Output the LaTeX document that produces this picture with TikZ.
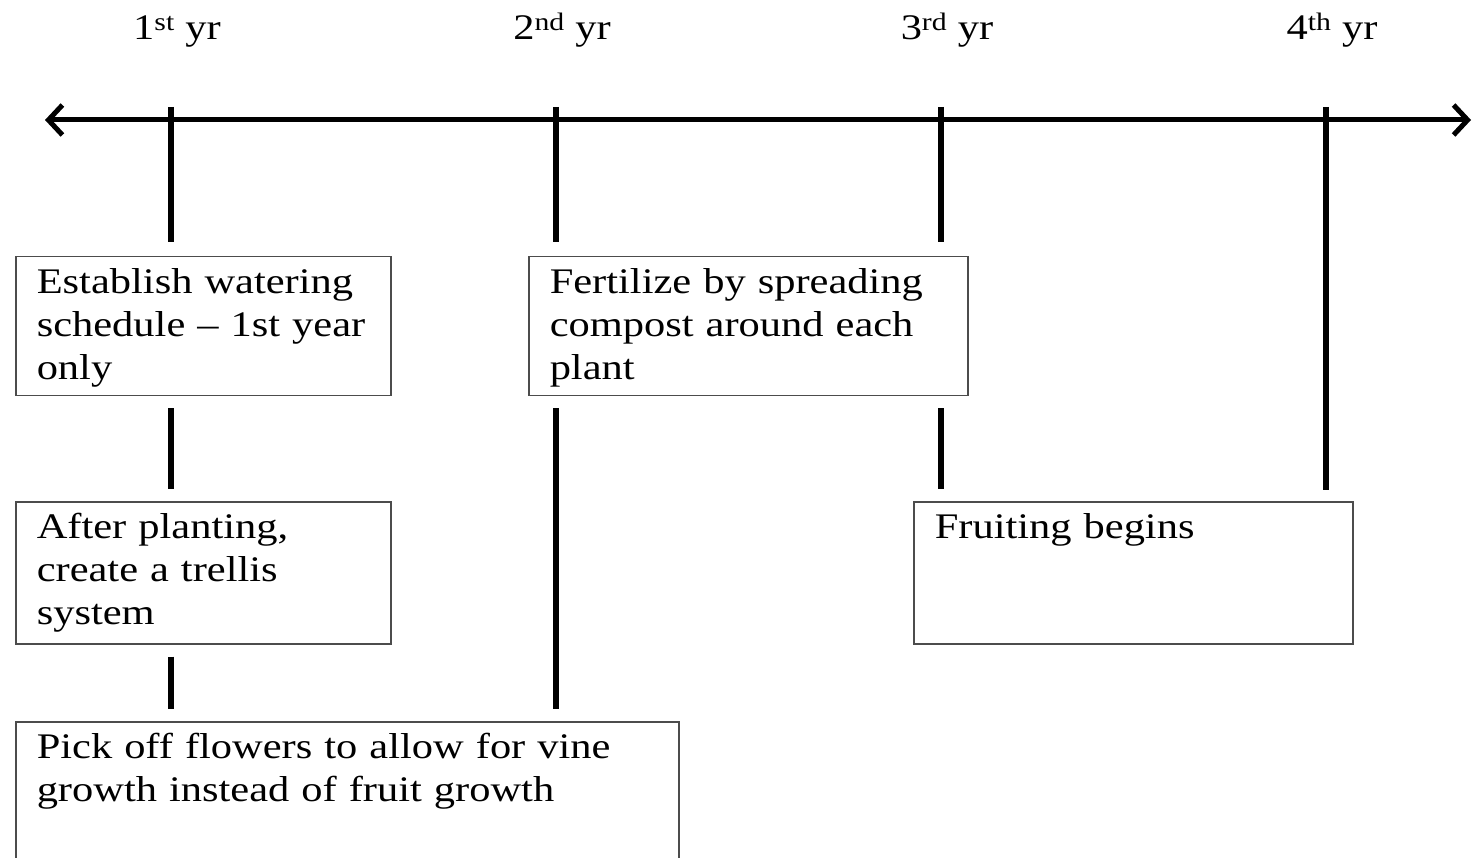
\documentclass[tikz,border=0pt]{standalone}
\usepackage{fontspec}
\setmainfont[FakeStretch=1.18]{Liberation Serif}
\usetikzlibrary{arrows.meta}
\tikzset{
  card/.style={draw=black!70, line width=1.5pt, anchor=north west, inner sep=0pt,
    inner xsep=21pt, align=left, text height=37pt},
  bar/.style={line width=6pt},
  gap/.style={bar, shorten <=12pt, shorten >=12pt},
  yr/.style={anchor=base},
}
\begin{document}
\begin{tikzpicture}[x=1pt,y=-1pt,font=\fontsize{36}{43}\selectfont]
    \useasboundingbox (0,0) rectangle (1473,858);
    % time line
    \coordinate (lend) at (45,120);
    \coordinate (rend) at (1471,120);
    \draw[line width=5pt,{Straight Barb[length=14pt,width=30pt]}-{Straight Barb[length=14pt,width=30pt]}] (lend) -- (rend);
    \foreach \n/\x/\lab in {1/171/st, 2/556/nd, 3/941/rd, 4/1326/th} {
        \coordinate (t\n) at (\x,120);
        \node[yr] (y\n) at (\x+6,40) {\n\textsuperscript{\lab} yr};
    }
    % tasks
    \node[card, text width=333pt, text depth=102pt] (water) at (15,256) {Establish watering\\schedule -- 1st year\\only};
    \node[card, text width=397pt, text depth=102pt] (fert) at (528,256) {Fertilize by spreading\\compost around each\\plant};
    \node[card, text width=333pt, text depth=105pt] (trel) at (15,501) {After planting,\\create a trellis\\system};
    \node[card, text width=397pt, text depth=105pt] (fruit) at (913,501) {Fruiting begins};
    \node[card, text width=621pt, text depth=130pt] (pick) at (15,721) {Pick off flowers to allow for vine\\growth instead of fruit growth};
    % links
    \draw[bar, shorten >=14pt] ([yshift=13pt]t1) -- (t1 |- water.north);
    \draw[bar, shorten >=14pt] ([yshift=13pt]t2) -- (t2 |- fert.north);
    \draw[bar, shorten >=14pt] ([yshift=13pt]t3) -- (t3 |- fert.north);
    \draw[bar, shorten >=11pt] ([yshift=13pt]t4) -- (t4 |- fruit.north);
    \draw[gap] (t1 |- water.south) -- (t1 |- trel.north);
    \draw[gap] (t1 |- trel.south) -- (t1 |- pick.north);
    \draw[gap] (t2 |- fert.south) -- (t2 |- pick.north);
    \draw[gap] (t3 |- fert.south) -- (t3 |- fruit.north);
\end{tikzpicture}
\end{document}
